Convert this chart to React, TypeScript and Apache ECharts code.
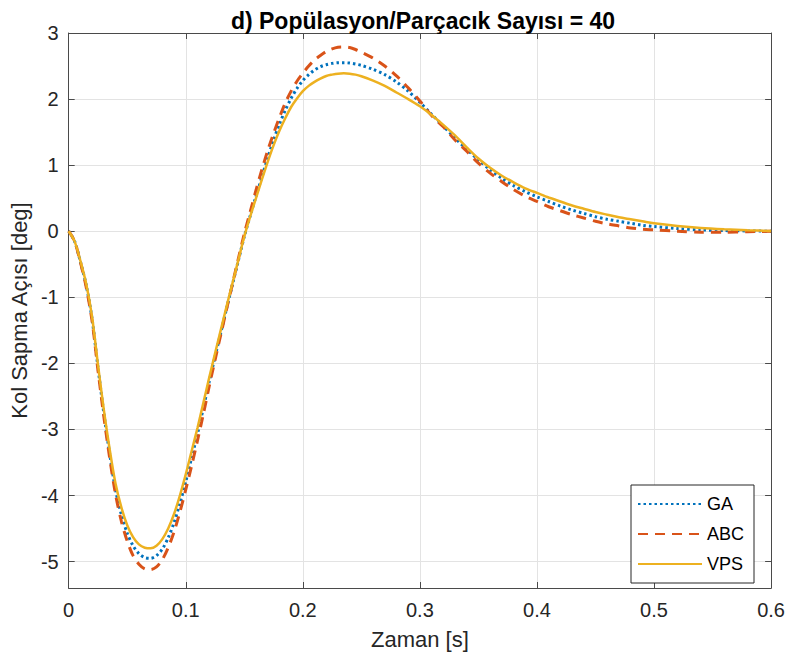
import React, { useEffect, useRef } from "react";
import * as echarts from "echarts";

const titleText = "d) Popülasyon/Parçacık Sayısı = 40";
const xName = "Zaman [s]";
const yName = "Kol Sapma Açısı [deg]";
const seriesNames = ["GA", "ABC", "VPS"];

const times = [
  0, 0.005, 0.01, 0.015, 0.02, 0.025, 0.03, 0.035, 0.04, 0.045,
  0.05, 0.055, 0.06, 0.065, 0.07, 0.075, 0.08, 0.085, 0.09, 0.095,
  0.1, 0.105, 0.11, 0.115, 0.12, 0.125, 0.13, 0.135, 0.14, 0.145,
  0.15, 0.155, 0.16, 0.165, 0.17, 0.175, 0.18, 0.185, 0.19, 0.195,
  0.2, 0.205, 0.21, 0.215, 0.22, 0.225, 0.23, 0.235, 0.24, 0.245, 0.25,
  0.26, 0.27, 0.28, 0.29, 0.3, 0.31, 0.32, 0.33, 0.34, 0.35,
  0.36, 0.37, 0.38, 0.39, 0.4, 0.41, 0.42, 0.43, 0.44, 0.45,
  0.46, 0.47, 0.48, 0.49, 0.5,
  0.52, 0.54, 0.56, 0.58, 0.6,
];

const gaValues = [
  0, -0.15, -0.46, -0.82, -1.33, -2.06, -2.75, -3.37, -3.91, -4.29,
  -4.57, -4.76, -4.88, -4.94, -4.95, -4.91, -4.81, -4.64, -4.41, -4.12,
  -3.79, -3.43, -3.07, -2.68, -2.28, -1.9, -1.53, -1.16, -0.8, -0.44,
  -0.08, 0.23, 0.53, 0.82, 1.11, 1.38, 1.62, 1.83, 2.01, 2.16,
  2.28, 2.37, 2.44, 2.49, 2.52, 2.54, 2.55, 2.55, 2.545, 2.53, 2.51,
  2.45, 2.37, 2.26, 2.12, 1.95, 1.77, 1.59, 1.41, 1.24, 1.08,
  0.93, 0.8, 0.69, 0.6, 0.52, 0.45, 0.38, 0.32, 0.27, 0.22,
  0.18, 0.15, 0.12, 0.09, 0.07,
  0.04, 0.02, 0.01, 0.004, 0,
];

const abcValues = [
  0, -0.15, -0.47, -0.85, -1.36, -2.1, -2.8, -3.43, -3.98, -4.39,
  -4.69, -4.91, -5.04, -5.11, -5.12, -5.08, -4.97, -4.79, -4.55, -4.25,
  -3.91, -3.55, -3.17, -2.77, -2.35, -1.95, -1.56, -1.17, -0.79, -0.41,
  -0.04, 0.29, 0.62, 0.93, 1.22, 1.48, 1.72, 1.94, 2.12, 2.27,
  2.39, 2.5, 2.59, 2.66, 2.72, 2.76, 2.785, 2.79, 2.78, 2.75, 2.71,
  2.62, 2.5, 2.35, 2.17, 1.97, 1.75, 1.58, 1.38, 1.21, 1.03,
  0.88, 0.75, 0.63, 0.53, 0.45, 0.37, 0.31, 0.25, 0.2, 0.15,
  0.11, 0.08, 0.05, 0.03, 0.02,
  0.0, -0.015, -0.015, -0.008, 0,
];

const vpsValues = [
  0, -0.15, -0.45, -0.8, -1.3, -2.02, -2.7, -3.3, -3.82, -4.18,
  -4.45, -4.63, -4.74, -4.79, -4.8, -4.76, -4.66, -4.5, -4.28, -4.0,
  -3.68, -3.33, -2.98, -2.6, -2.22, -1.85, -1.49, -1.13, -0.78, -0.43,
  -0.08, 0.22, 0.5, 0.78, 1.05, 1.3, 1.52, 1.71, 1.88, 2.01,
  2.12, 2.2, 2.26, 2.31, 2.35, 2.37, 2.385, 2.39, 2.385, 2.37, 2.345,
  2.28, 2.2, 2.1, 2.0, 1.89, 1.76, 1.61, 1.45, 1.27, 1.1,
  0.96, 0.84, 0.74, 0.65, 0.58, 0.51, 0.45, 0.39, 0.34, 0.29,
  0.25, 0.21, 0.18, 0.15, 0.12,
  0.08, 0.05, 0.03, 0.015, 0.005,
];

const FONT = "'Liberation Sans', Arial, Helvetica, sans-serif";
const AXIS_COLOR = "#4a4a4a";
const TEXT_COLOR = "#262626";

export default function App() {
  const ref = useRef<HTMLDivElement>(null);

  useEffect(() => {
    if (!ref.current) return;
    const chart = echarts.init(ref.current, undefined, { renderer: "svg" });

    const pair = (vals: number[]) => times.map((t, i) => [t, vals[i]]);

    const boxAxisCommon = {
      axisLine: { show: true, onZero: false, lineStyle: { color: AXIS_COLOR, width: 1 } },
      axisTick: { show: true, inside: true, length: 6, lineStyle: { color: AXIS_COLOR, width: 1 } },
    };

    chart.setOption({
      animation: false,
      backgroundColor: "#ffffff",
      textStyle: { fontFamily: FONT },
      title: {
        text: titleText,
        left: 418,
        top: 4,
        textAlign: "center",
        textStyle: { fontSize: 23, fontWeight: "bold", color: "#000", fontFamily: FONT },
      },
      grid: { left: 67, right: 16, top: 33, bottom: 72, containLabel: false },
      legend: {
        data: seriesNames,
        orient: "vertical",
        left: 631,
        top: 485,
        itemWidth: 64,
        itemHeight: 14,
        itemGap: 12,
        padding: [10, 10, 10, 6],
        borderColor: "#262626",
        borderWidth: 1,
        backgroundColor: "#ffffff",
        itemStyle: { opacity: 0 },
        textStyle: { fontSize: 18, color: "#000", fontFamily: FONT },
      },
      xAxis: [
        {
          type: "value",
          min: 0,
          max: 0.6,
          interval: 0.1,
          position: "bottom",
          ...boxAxisCommon,
          axisLabel: { color: TEXT_COLOR, fontSize: 20, margin: 12, fontFamily: FONT },
          splitLine: { show: true, lineStyle: { color: "#e3e3e3", width: 1 } },
          name: xName,
          nameLocation: "middle",
          nameGap: 40,
          nameTextStyle: { fontSize: 22, color: TEXT_COLOR, fontFamily: FONT },
        },
        {
          type: "value",
          min: 0,
          max: 0.6,
          interval: 0.1,
          position: "top",
          ...boxAxisCommon,
          axisLabel: { show: false },
          splitLine: { show: false },
        },
      ],
      yAxis: [
        {
          type: "value",
          min: -5.4,
          max: 3,
          splitNumber: 8,
          minInterval: 1,
          maxInterval: 1,
          position: "left",
          ...boxAxisCommon,
          axisLabel: {
            color: TEXT_COLOR,
            fontSize: 20,
            margin: 10,
            fontFamily: FONT,
            formatter: (v: number) => (Number.isInteger(Math.round(v * 1000) / 1000) ? String(Math.round(v)) : ""),
          },
          splitLine: { show: true, lineStyle: { color: "#e3e3e3", width: 1 } },
          name: yName,
          nameLocation: "middle",
          nameGap: 34,
          nameTextStyle: { fontSize: 22, color: TEXT_COLOR, fontFamily: FONT },
        },
        {
          type: "value",
          min: -5.4,
          max: 3,
          splitNumber: 8,
          minInterval: 1,
          maxInterval: 1,
          position: "right",
          ...boxAxisCommon,
          axisLabel: { show: false },
          splitLine: { show: false },
        },
      ],
      series: [
        {
          name: "GA",
          type: "line",
          xAxisIndex: 0,
          yAxisIndex: 0,
          data: pair(gaValues),
          showSymbol: false,
          symbol: "none",
          smooth: 0.3,
          lineStyle: { color: "#0072BD", width: 3, type: [2.5, 3], cap: "butt" },
          itemStyle: { color: "#0072BD" },
          z: 2,
        },
        {
          name: "ABC",
          type: "line",
          xAxisIndex: 0,
          yAxisIndex: 0,
          data: pair(abcValues),
          showSymbol: false,
          symbol: "none",
          smooth: 0.3,
          lineStyle: { color: "#D95319", width: 3, type: [10, 7], cap: "butt" },
          itemStyle: { color: "#D95319" },
          z: 3,
        },
        {
          name: "VPS",
          type: "line",
          xAxisIndex: 0,
          yAxisIndex: 0,
          data: pair(vpsValues),
          showSymbol: false,
          symbol: "none",
          smooth: 0.3,
          lineStyle: { color: "#EDB120", width: 2.5, type: "solid" },
          itemStyle: { color: "#EDB120" },
          z: 4,
        },
      ],
    });

    return () => chart.dispose();
  }, []);

  return (
    <div
      ref={ref}
      style={{ position: "fixed", left: 0, top: 0, width: 788, height: 660, background: "#fff" }}
    />
  );
}
